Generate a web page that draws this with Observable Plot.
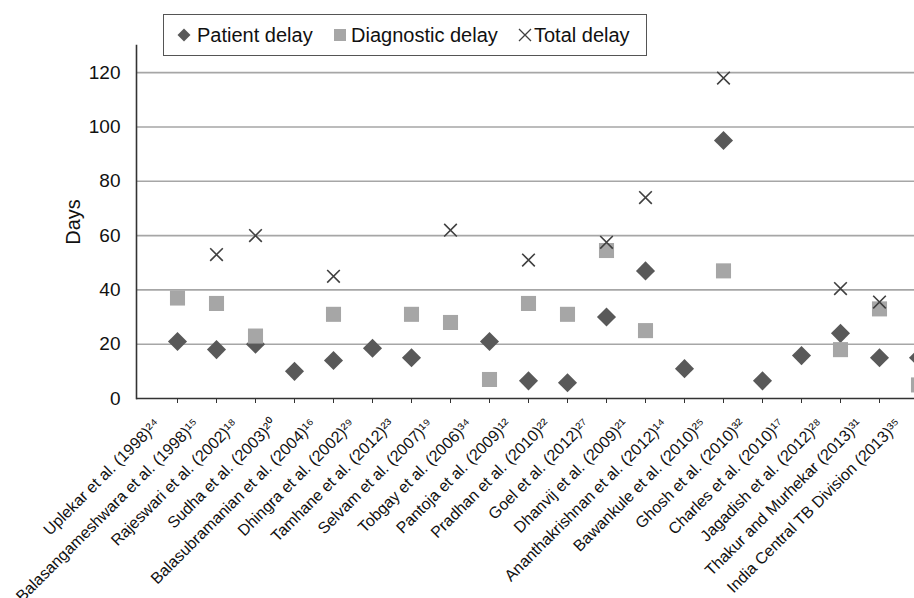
<!DOCTYPE html>
<html><head><meta charset="utf-8">
<script src="https://cdn.jsdelivr.net/npm/d3@7"></script>
<script src="https://cdn.jsdelivr.net/npm/@observablehq/plot@0.6"></script>
<style>
html,body{margin:0;padding:0;overflow:hidden;background:#fff;}
#wrap{position:relative;width:914px;height:598px;overflow:hidden;font-family:"Liberation Sans",Arial,sans-serif;}
#chart svg{overflow:hidden;}
#legend{position:absolute;left:163px;top:14px;width:482px;height:40px;border:1px solid #555;background:#fff;}
.sw{position:absolute;top:13px;}
.lt{position:absolute;top:0;height:40px;line-height:40px;font-size:20px;color:#111;white-space:nowrap;}
</style></head><body>
<div id="wrap"><div id="chart"></div><div id="legend"></div></div>
<script>
const studies = [
  "Uplekar et al. (1998)", "Balasangameshwara et al. (1998)", "Rajeswari et al. (2002)",
  "Sudha et al. (2003)", "Balasubramanian et al. (2004)", "Dhingra et al. (2002)",
  "Tamhane et al. (2012)", "Selvam et al. (2007)", "Tobgay et al. (2006)",
  "Pantoja et al. (2009)", "Pradhan et al. (2010)", "Goel et al. (2012)",
  "Dhanvij et al. (2009)", "Ananthakrishnan et al. (2012)", "Bawankule et al. (2010)",
  "Ghosh et al. (2010)", "Charles et al. (2010)", "Jagadish et al. (2012)",
  "Thakur and Murhekar (2013)", "India Central TB Division (2013)"
];
const refs = [24, 15, 18, 20, 16, 29, 23, 19, 34, 12, 22, 27, 21, 14, 25, 32, 17, 28, 31, 35];
const patientDelay    = [21, 18, 20, 10, 14, 18.5, 15, null, 21, 6.5, 5.8, 30, 47, 11, 95, 6.5, 15.8, 24, 15, 15];
const diagnosticDelay = [37, 35, 23, null, 31, null, 31, 28, 7, 35, 31, 54.5, 25, null, 47, null, null, 18, 33, 5];
const totalDelay      = [null, 53, 60, null, 45, null, null, 62, null, 51, null, 57.5, 74, null, 118, null, null, 40.5, 35.5, null];
const seriesNames = ["Patient delay", "Diagnostic delay", "Total delay"];
const yTicks = [0, 20, 40, 60, 80, 100, 120];
const gridTicks = [20, 40, 60, 80, 100, 120];

const supMap = {"0":"⁰","1":"¹","2":"²","3":"³","4":"⁴","5":"⁵","6":"⁶","7":"⁷","8":"⁸","9":"⁹"};
const labelOf = (s, i) => s + String(refs[i]).split("").map(c => supMap[c]).join("");
const labels = studies.map(labelOf);

const rows = [];
[patientDelay, diagnosticDelay, totalDelay].forEach((arr, k) => {
  arr.forEach((v, i) => { if (v != null) rows.push({study: labels[i], value: v, series: seriesNames[k]}); });
});

const chart = Plot.plot({
  width: 914, height: 598,
  marginLeft: 136, marginTop: 45, marginBottom: 200, marginRight: 0,
  style: {fontFamily: '"Liberation Sans", Arial, sans-serif', background: "#fff", overflow: "hidden"},
  x: {type: "point", domain: labels, range: [174.5, 921], padding: 0},
  y: {domain: [0, 130]},
  marks: [
    Plot.ruleY(gridTicks, {stroke: "#a6a6a6", strokeWidth: 1.6}),
    Plot.ruleY([0], {stroke: "#333", strokeWidth: 1.6}),
    Plot.frame({anchor: "left", stroke: "#333", strokeWidth: 1.6}),
    Plot.axisY({ticks: yTicks, tickSize: 0, tickPadding: 16, fontSize: 19, fill: "#111", label: null}),
    Plot.axisX({tickSize: 5, stroke: "#333", tickFormat: () => "", label: null}),
    Plot.axisX({tickSize: 0, tickPadding: 23, tickRotate: -45, dx: -20, fontSize: 16, fill: "#111", label: null}),
    Plot.text(["Days"], {frameAnchor: "left", textAnchor: "middle", dx: -63, rotate: -90, fontSize: 20, fill: "#111"}),
    Plot.dot(rows.filter(d => d.series === "Patient delay"), {x: "study", y: "value", symbol: "diamond2", r: 8.6, fill: "#595959", stroke: "none"}),
    Plot.dot(rows.filter(d => d.series === "Diagnostic delay"), {x: "study", y: "value", symbol: "square", r: 8.5, fill: "#a6a6a6", stroke: "none"}),
    Plot.dot(rows.filter(d => d.series === "Total delay"), {x: "study", y: "value", symbol: "times", r: 5.8, stroke: "#404040", strokeWidth: 1.6, fill: "none"})
  ]
});
document.getElementById("chart").appendChild(chart);

// legend
const legend = document.getElementById("legend");
const swatches = [
  '<svg width="14" height="14"><polygon points="7,0.5 13.5,7 7,13.5 0.5,7" fill="#595959"/></svg>',
  '<svg width="14" height="14"><rect x="1" y="1" width="12" height="12" fill="#a6a6a6"/></svg>',
  '<svg width="14" height="14"><path d="M1,1L13,13M13,1L1,13" stroke="#404040" stroke-width="1.3"/></svg>'
];
const swX = [13, 168.5, 354];
const txX = [33, 187, 370];
seriesNames.forEach((name, k) => {
  const s = document.createElement("div");
  s.className = "sw"; s.style.left = swX[k] + "px"; s.innerHTML = swatches[k];
  legend.appendChild(s);
  const t = document.createElement("div");
  t.className = "lt"; t.style.left = txX[k] + "px"; t.textContent = name;
  legend.appendChild(t);
});
</script>
</body></html>
